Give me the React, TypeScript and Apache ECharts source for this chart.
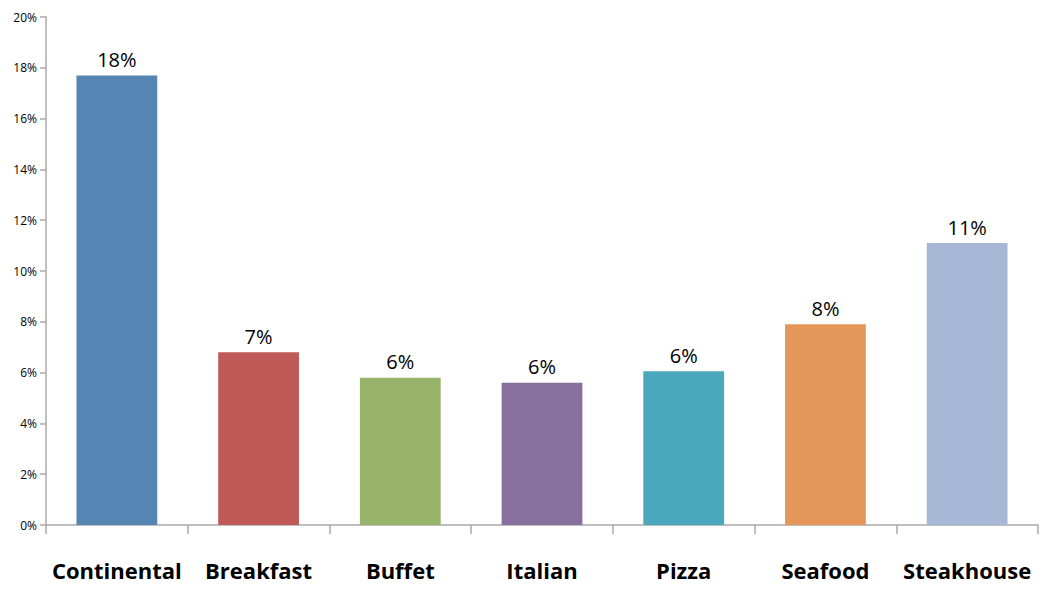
import React, { useEffect, useRef } from "react";
import * as echarts from "echarts";

const categories = ["Continental", "Breakfast", "Buffet", "Italian", "Pizza", "Seafood", "Steakhouse"];
const values = [17.7, 6.8, 5.8, 5.6, 6.05, 7.9, 11.1];
const colors = ["#5586B3", "#BE5A57", "#98B36A", "#87709D", "#4BA7BB", "#E5975A", "#A6B8D6"];

export default function App() {
  const ref = useRef<HTMLDivElement>(null);
  useEffect(() => {
    if (!ref.current) return;
    const chart = echarts.init(ref.current, undefined, { renderer: "svg" });
    chart.setOption({
      animation: false,
      backgroundColor: "#ffffff",
      grid: { left: 46, right: 8, top: 17, bottom: 64 },
      xAxis: {
        type: "category",
        data: categories,
        axisLine: { lineStyle: { color: "#AAAAAA", width: 1.5 } },
        axisTick: { show: true, interval: 0, length: 9, lineStyle: { color: "#AAAAAA", width: 1.5 } },
        axisLabel: {
          interval: 0,
          margin: 34,
          fontSize: 22,
          fontWeight: "bold",
          color: "#000000",
          fontFamily: "Open Sans",
        },
      },
      yAxis: {
        type: "value",
        min: 0,
        max: 20,
        interval: 2,
        splitLine: { show: false },
        axisLine: { show: true, lineStyle: { color: "#AAAAAA", width: 1.5 } },
        axisTick: { show: true, length: 6, lineStyle: { color: "#AAAAAA", width: 1.5 } },
        axisLabel: {
          margin: 9,
          fontSize: 12,
          color: "#000000",
          fontFamily: "Open Sans",
          formatter: (v: number) => v + "%",
        },
      },
      series: [
        {
          type: "bar",
          data: values.map((v, i) => ({ value: v, itemStyle: { color: colors[i] } })),
          barWidth: "57%",
          label: {
            show: true,
            position: "top",
            distance: 6,
            fontSize: 20,
            color: "#000000",
            fontFamily: "Open Sans",
            formatter: (p: any) => Math.round(p.value) + "%",
          },
        },
      ],
    });
    return () => chart.dispose();
  }, []);
  return (
    <div
      ref={ref}
      style={{ position: "fixed", left: 0, top: 0, width: 1046, height: 589 }}
    />
  );
}
